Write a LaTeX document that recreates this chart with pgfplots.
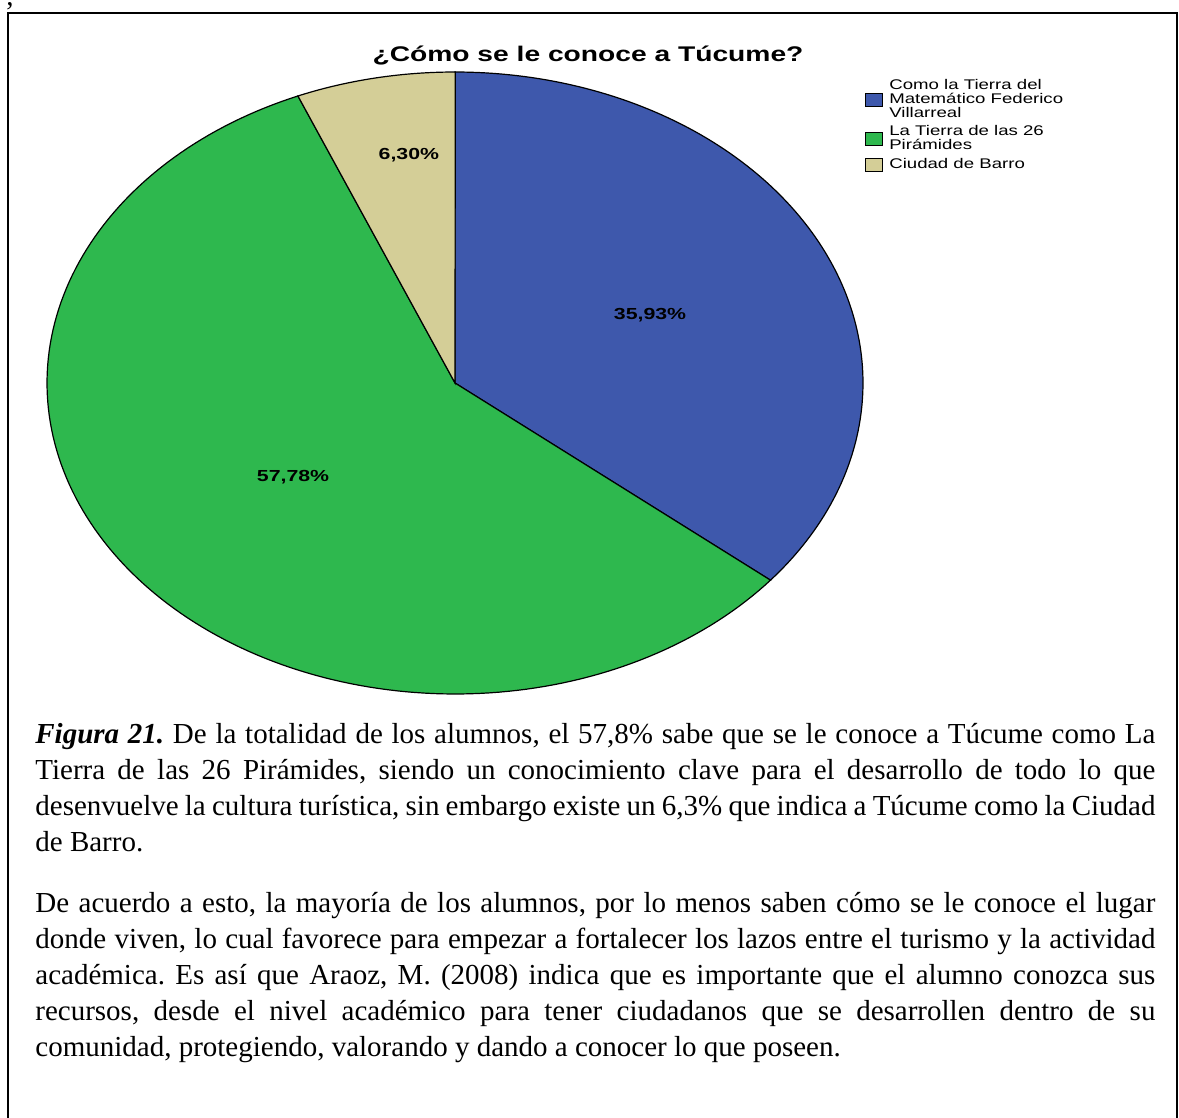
\documentclass[border=0pt]{standalone}
\usepackage{pgfplots}
\pgfplotsset{compat=1.18}
\usepackage{fontspec}
\setmainfont{Liberation Serif}
\newfontfamily\chartfont[FakeStretch=1.33]{Liberation Sans}
\definecolor{cblue}{RGB}{62,88,172}
\definecolor{cgreen}{RGB}{46,184,78}
\definecolor{cbeige}{RGB}{212,206,151}
% data (percentages)
\def\pA{35.93}
\def\pB{57.78}
\def\pC{6.30}
\newcommand\jl[1]{\hbox to 560pt{#1}}
\hbadness=10000 \hfuzz=50pt
\frenchspacing
\begin{document}
\begin{tikzpicture}
\path[use as bounding box] (0,0) rectangle (589.5pt,-559pt);
\draw[line width=1pt] (4pt,-559pt) -- (4pt,-6.5pt) -- (588.5pt,-6.5pt) -- (588.5pt,-559pt);
\node[anchor=base, inner sep=0, font=\fontsize{14.5}{18}\selectfont] at (5pt,-3pt) {,};
\pgfmathsetmacro{\aS}{90}
\pgfmathsetmacro{\aA}{90-\pA*3.6}
\pgfmathsetmacro{\aB}{\aA-\pB*3.6}
\pgfmathsetmacro{\aC}{\aB-\pC*3.6}
\begin{axis}[at={(227.5pt,-191.5pt)}, anchor=center, scale only axis,
  width=408pt, height=311pt, xmin=-1, xmax=1, ymin=-1, ymax=1,
  hide axis, clip=false,
  legend cell align=left,
  legend style={at={(0.995,0.998)}, anchor=north west, draw=none, fill=none,
    font=\chartfont\fontsize{7}{7}\selectfont,
    nodes={align=left, inner sep=1pt}, row sep=0.5pt},
  legend image code/.code={\draw[#1, draw=black, line width=0.4pt] (0pt,-3.25pt) rectangle (8.5pt,3.25pt); \path (10.5pt,0pt);}
]
\addplot[fill=cblue, draw=black, line width=0.6pt, domain=\aA:\aS, samples=120, variable=\t]
  ({cos(\t)},{sin(\t)}) -- (axis cs:0,0) -- cycle;
\addlegendentry{Como la Tierra del\\Matemático Federico\\Villarreal}
\addplot[fill=cgreen, draw=black, line width=0.6pt, domain=\aB:\aA, samples=160, variable=\t]
  ({cos(\t)},{sin(\t)}) -- (axis cs:0,0) -- cycle;
\addlegendentry{La Tierra de las 26\\Pirámides}
\addplot[fill=cbeige, draw=black, line width=0.6pt, domain=\aC:\aB, samples=40, variable=\t]
  ({cos(\t)},{sin(\t)}) -- (axis cs:0,0) -- cycle;
\addlegendentry{Ciudad de Barro}
\node[font=\chartfont\bfseries\fontsize{8}{8}\selectfont] at (axis cs:0.478,0.219) {35,93\%};
\node[font=\chartfont\bfseries\fontsize{8}{8}\selectfont] at (axis cs:-0.397,-0.302) {57,78\%};
\node[font=\chartfont\bfseries\fontsize{8}{8}\selectfont] at (axis cs:-0.113,0.733) {6,30\%};
\end{axis}
\node[font=\chartfont\bfseries\fontsize{10.6}{12}\selectfont, anchor=base, inner sep=0] at (294pt,-31pt) {¿Cómo se le conoce a Túcume?};
\node[anchor=base west, inner sep=0, font=\fontsize{14.5}{18}\selectfont] at (17.5pt,-371.5pt) {\vtop{\baselineskip=18pt
\jl{\textbf{\textit{Figura 21.}} De la totalidad de los alumnos, el 57,8\% sabe que se le conoce a Túcume como La}
\jl{Tierra de las 26 Pirámides, siendo un conocimiento clave para el desarrollo de todo lo que}
\jl{desenvuelve la cultura turística, sin embargo existe un 6,3\% que indica a Túcume como la Ciudad}
\hbox{de Barro.}}};
\node[anchor=base west, inner sep=0, font=\fontsize{14.5}{18}\selectfont] at (17.5pt,-456pt) {\vtop{\baselineskip=18pt
\jl{De acuerdo a esto, la mayoría de los alumnos, por lo menos saben cómo se le conoce el lugar}
\jl{donde viven, lo cual favorece para empezar a fortalecer los lazos entre el turismo y la actividad}
\jl{académica. Es así que Araoz, M. (2008) indica que es importante que el alumno conozca sus}
\jl{recursos, desde el nivel académico para tener ciudadanos que se desarrollen dentro de su}
\hbox{comunidad, protegiendo, valorando y dando a conocer lo que poseen.}}};
\end{tikzpicture}
\end{document}
